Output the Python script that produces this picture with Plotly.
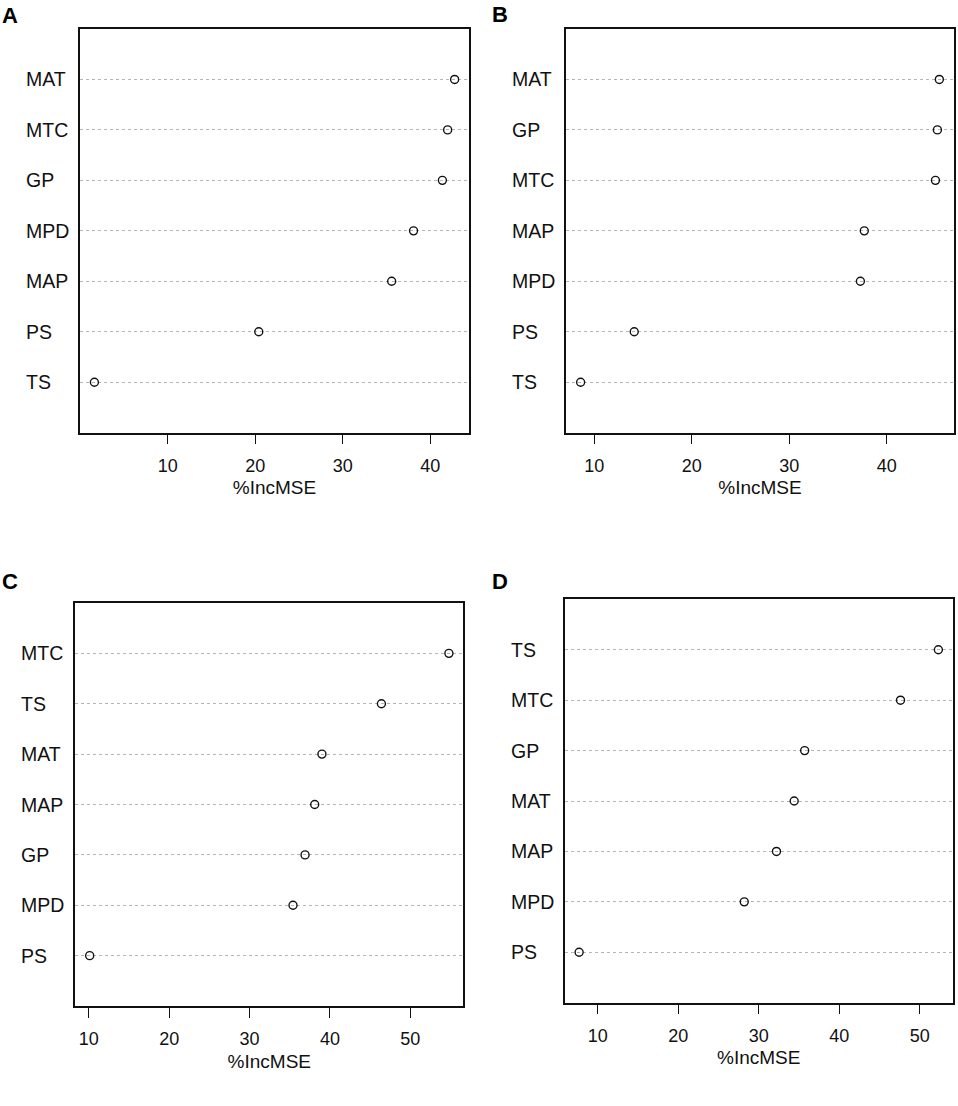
import plotly.graph_objects as go

# variable importance (%IncMSE) per panel, listed top to bottom
labels_a = ["MAT", "MTC", "GP", "MPD", "MAP", "PS", "TS"]
incmse_a = [42.8, 42.0, 41.4, 38.1, 35.6, 20.4, 1.6]

labels_b = ["MAT", "GP", "MTC", "MAP", "MPD", "PS", "TS"]
incmse_b = [45.4, 45.2, 45.0, 37.7, 37.3, 14.1, 8.6]

labels_c = ["MTC", "TS", "MAT", "MAP", "GP", "MPD", "PS"]
incmse_c = [54.8, 46.4, 39.0, 38.1, 36.9, 35.4, 10.1]

labels_d = ["TS", "MTC", "GP", "MAT", "MAP", "MPD", "PS"]
incmse_d = [52.3, 47.6, 35.7, 34.4, 32.2, 28.2, 7.7]

panel_tags = ["A", "B", "C", "D"]
ticks_top = [10, 20, 30, 40]
ticks_bottom = [10, 20, 30, 40, 50]
x_title = "%IncMSE"

FONT = "Liberation Sans, Arial, sans-serif"
INK = "#111111"

panels = [
    (labels_a, incmse_a, ticks_top, [0.0835, 0.4896], [0.6088, 0.9738]),
    (labels_b, incmse_b, ticks_top, [0.5911, 0.9955], [0.6088, 0.9738]),
    (labels_c, incmse_c, ticks_bottom, [0.0786, 0.4836], [0.0904, 0.4548]),
    (labels_d, incmse_d, ticks_bottom, [0.5895, 0.9945], [0.0934, 0.4581]),
]
# where the bold panel letters sit (paper coords)
tag_pos = [(0.0, 0.9864), (0.5115, 0.9867), (0.0, 0.4741), (0.5115, 0.4741)]

fig = go.Figure()
layout = dict(
    width=958, height=1106,
    margin=dict(l=0, r=0, t=0, b=0),
    paper_bgcolor="white", plot_bgcolor="white",
    showlegend=False,
    font=dict(family=FONT, color=INK),
)
annotations = []

for i, (labels, vals, ticks, xdom, ydom) in enumerate(panels):
    n = i + 1
    xa = "x" if n == 1 else f"x{n}"
    ya = "y" if n == 1 else f"y{n}"

    fig.add_trace(go.Scatter(
        x=vals, y=labels, mode="markers",
        xaxis=xa, yaxis=ya,
        marker=dict(symbol="circle-open", size=8, color=INK,
                    line=dict(width=1.4, color=INK)),
        hoverinfo="x+y",
    ))

    # R dotchart style: 4% padding around the data
    lo, hi = min(vals), max(vals)
    pad = (hi - lo) * 0.04

    layout[f"xaxis{'' if n == 1 else n}"] = dict(
        domain=xdom, anchor=ya,
        range=[lo - pad, hi + pad],
        tickvals=ticks, ticks="outside", ticklen=10, tickwidth=1.2,
        tickcolor=INK, ticklabelstandoff=6,
        tickfont=dict(size=18, family=FONT, color=INK),
        showgrid=False, zeroline=False,
        showline=True, mirror=True, linecolor=INK, linewidth=1.5,
        title=dict(text=x_title, font=dict(size=19, family=FONT, color=INK),
                   standoff=6),
    )
    layout[f"yaxis{'' if n == 1 else n}"] = dict(
        domain=ydom, anchor=xa,
        type="category", categoryorder="array",
        categoryarray=list(reversed(labels)),
        range=[-1, len(labels)],
        showticklabels=False, ticks="",
        showgrid=True, gridcolor="#b5b5b5", griddash="dot", gridwidth=1,
        zeroline=False,
        showline=True, mirror=True, linecolor=INK, linewidth=1.5,
    )

    # left-aligned row labels as in dotchart
    for lab in labels:
        annotations.append(dict(
            text=lab, xref=f"{xa} domain", yref=ya, x=0, y=lab,
            xanchor="left", yanchor="middle", xshift=-56, showarrow=False,
            font=dict(size=19.5, family=FONT, color=INK),
        ))

    tx, ty = tag_pos[i]
    annotations.append(dict(
        text=f"<b>{panel_tags[i]}</b>", xref="paper", yref="paper",
        x=tx, y=ty, xanchor="left", yanchor="middle", showarrow=False,
        font=dict(size=22, family=FONT, color="black"),
    ))

layout["annotations"] = annotations
fig.update_layout(**layout)

# drop the browser's default body margin so the figure fills the window
fig.write_html("out.html",
               config={"displayModeBar": False},
               post_script="document.body.style.margin='0';")
